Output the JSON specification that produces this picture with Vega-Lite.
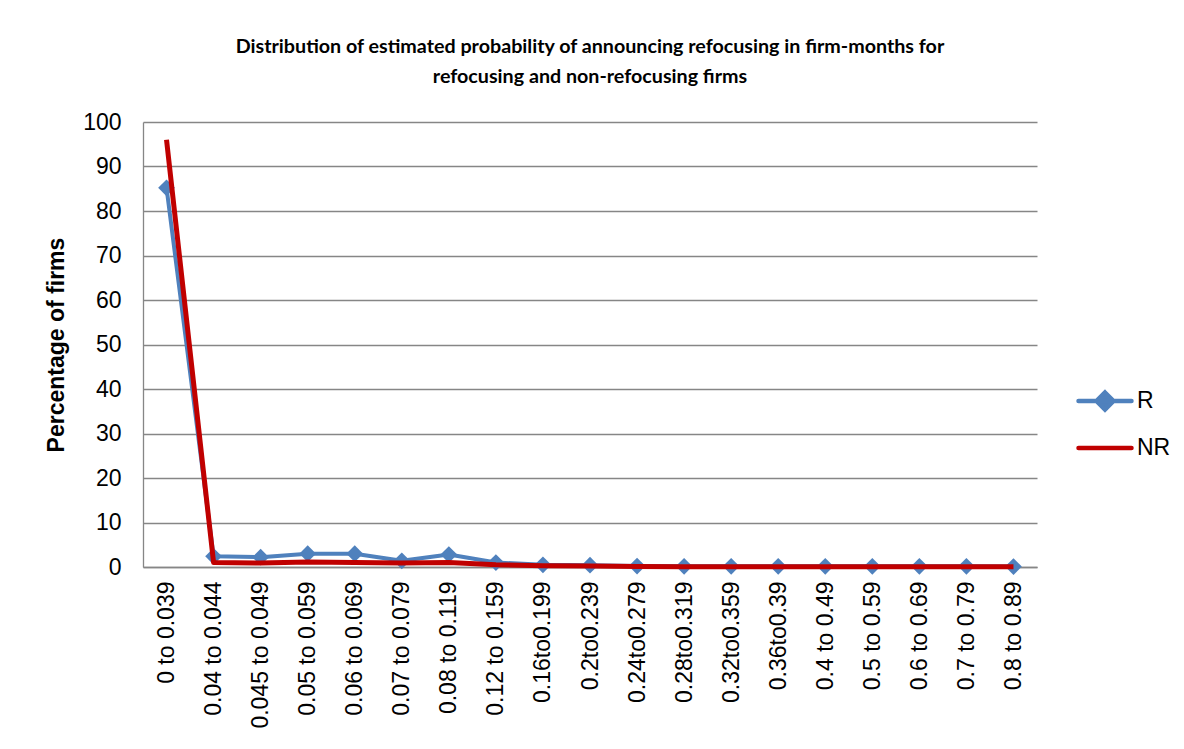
{
  "$schema": "https://vega.github.io/schema/vega-lite/v6.json",
  "width": 894,
  "height": 445,
  "autosize": {"type": "none"},
  "padding": {"left": 143, "top": 122, "right": 147, "bottom": 182},
  "background": "white",
  "title": {
    "text": ["Distribution of estimated probability of announcing refocusing in firm-months for", "refocusing and non-refocusing firms"],
    "font": "Lato",
    "fontSize": 19.7,
    "fontWeight": "bold",
    "color": "#000000",
    "anchor": "middle",
    "lineHeight": 30,
    "offset": 24
  },
  "config": {
    "view": {"stroke": null},
    "axis": {"labelFont": "Liberation Sans", "titleFont": "Liberation Sans", "labelColor": "#000000", "titleColor": "#000000"}
  },
  "data": {
    "values": [
      {"bin": "0 to 0.039", "series": "R", "value": 85.2},
      {"bin": "0.04 to 0.044", "series": "R", "value": 2.4},
      {"bin": "0.045 to 0.049", "series": "R", "value": 2.2},
      {"bin": "0.05 to 0.059", "series": "R", "value": 3.0},
      {"bin": "0.06 to 0.069", "series": "R", "value": 3.0},
      {"bin": "0.07 to 0.079", "series": "R", "value": 1.4},
      {"bin": "0.08 to 0.119", "series": "R", "value": 2.8},
      {"bin": "0.12 to 0.159", "series": "R", "value": 1.0},
      {"bin": "0.16to0.199", "series": "R", "value": 0.5},
      {"bin": "0.2to0.239", "series": "R", "value": 0.4},
      {"bin": "0.24to0.279", "series": "R", "value": 0.2},
      {"bin": "0.28to0.319", "series": "R", "value": 0.15},
      {"bin": "0.32to0.359", "series": "R", "value": 0.15},
      {"bin": "0.36to0.39", "series": "R", "value": 0.15},
      {"bin": "0.4 to 0.49", "series": "R", "value": 0.15},
      {"bin": "0.5 to 0.59", "series": "R", "value": 0.15},
      {"bin": "0.6 to 0.69", "series": "R", "value": 0.15},
      {"bin": "0.7 to 0.79", "series": "R", "value": 0.15},
      {"bin": "0.8 to 0.89", "series": "R", "value": 0.1},
      {"bin": "0 to 0.039", "series": "NR", "value": 96.0},
      {"bin": "0.04 to 0.044", "series": "NR", "value": 1.0},
      {"bin": "0.045 to 0.049", "series": "NR", "value": 0.9},
      {"bin": "0.05 to 0.059", "series": "NR", "value": 1.1},
      {"bin": "0.06 to 0.069", "series": "NR", "value": 1.0},
      {"bin": "0.07 to 0.079", "series": "NR", "value": 0.9},
      {"bin": "0.08 to 0.119", "series": "NR", "value": 1.0},
      {"bin": "0.12 to 0.159", "series": "NR", "value": 0.5},
      {"bin": "0.16to0.199", "series": "NR", "value": 0.3},
      {"bin": "0.2to0.239", "series": "NR", "value": 0.2},
      {"bin": "0.24to0.279", "series": "NR", "value": 0.1},
      {"bin": "0.28to0.319", "series": "NR", "value": 0.05},
      {"bin": "0.32to0.359", "series": "NR", "value": 0.05},
      {"bin": "0.36to0.39", "series": "NR", "value": 0.05},
      {"bin": "0.4 to 0.49", "series": "NR", "value": 0.05},
      {"bin": "0.5 to 0.59", "series": "NR", "value": 0.05},
      {"bin": "0.6 to 0.69", "series": "NR", "value": 0.05},
      {"bin": "0.7 to 0.79", "series": "NR", "value": 0.05},
      {"bin": "0.8 to 0.89", "series": "NR", "value": 0.05}
    ]
  },
  "encoding": {
    "x": {
      "field": "bin", "type": "nominal", "sort": null,
      "scale": {"type": "point", "padding": 0.5},
      "axis": {
        "title": null, "labelAngle": -90, "labelFontSize": 23, "labelPadding": 14,
        "ticks": false, "grid": false, "domainColor": "#868686", "domainWidth": 1.3
      }
    },
    "y": {
      "field": "value", "type": "quantitative",
      "scale": {"domain": [0, 100], "nice": false},
      "axis": {
        "title": "Percentage of firms", "titleFontSize": 23, "titleFontWeight": "bold", "titlePadding": 14,
        "values": [0, 10, 20, 30, 40, 50, 60, 70, 80, 90, 100],
        "labelFontSize": 23, "labelPadding": 22, "ticks": false,
        "grid": true, "gridColor": "#868686", "gridWidth": 1.3,
        "domainColor": "#868686", "domainWidth": 1.3
      }
    }
  },
  "layer": [
    {
      "transform": [{"filter": "datum.series === 'R'"}],
      "mark": {"type": "line", "strokeWidth": 4, "strokeJoin": "round"},
      "encoding": {
        "color": {
          "field": "series", "type": "nominal",
          "scale": {"domain": ["R", "NR"], "range": ["#4F81BD", "#C00000"]},
          "legend": {
            "title": null, "orient": "none", "legendX": 933, "legendY": 250,
            "padding": 0, "symbolSize": 2809, "symbolOffset": 0, "symbolStrokeWidth": 4.5,
            "labelFont": "Liberation Sans", "labelFontSize": 23, "labelColor": "#000000", "labelOffset": 3,
            "rowPadding": -5,
            "encode": {
              "symbols": {
                "update": {
                  "shape": {"signal": "datum.value === 'R' ? 'M-1,0H1M0,-0.32L0.32,0L0,0.32L-0.32,0Z' : 'M-1,0H1'"},
                  "fill": {"signal": "datum.value === 'R' ? '#4F81BD' : '#C00000'"},
                  "stroke": {"signal": "datum.value === 'R' ? '#4F81BD' : '#C00000'"},
                  "strokeWidth": {"value": 4.5},
                  "strokeCap": {"value": "round"},
                  "opacity": {"value": 1},
                  "fillOpacity": {"value": 1}
                }
              }
            }
          }
        }
      }
    },
    {
      "transform": [{"filter": "datum.series === 'R'"}],
      "mark": {"type": "point", "shape": "diamond", "filled": true, "size": 280, "opacity": 1},
      "encoding": {"color": {"value": "#4F81BD"}}
    },
    {
      "transform": [{"filter": "datum.series === 'NR'"}],
      "mark": {"type": "line", "strokeWidth": 5, "strokeJoin": "round"},
      "encoding": {
        "color": {"field": "series", "type": "nominal"}
      }
    }
  ]
}
